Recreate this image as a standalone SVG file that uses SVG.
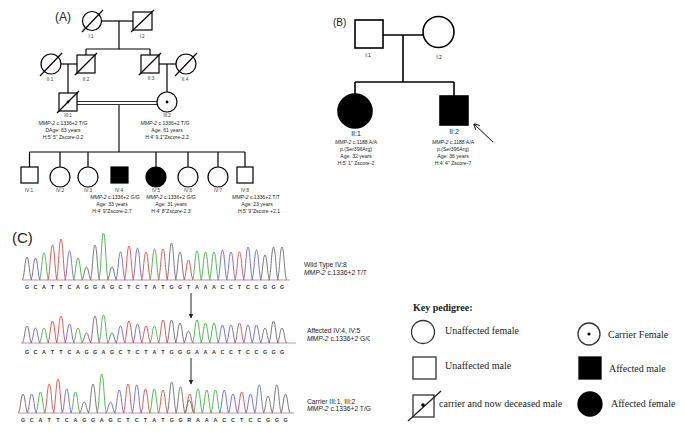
<svg xmlns="http://www.w3.org/2000/svg" width="685" height="433" viewBox="0 0 685 433">
<defs>
<style>
.ln{stroke:#000;stroke-width:1.2;fill:none}
.sh{stroke:#000;stroke-width:1.2;fill:#fff}
.bk{stroke:#000;stroke-width:1.2;fill:#000}
.lnB{stroke:#000;stroke-width:1.6;fill:none}
.shB{stroke:#000;stroke-width:1.6;fill:#fff}
.bkB{stroke:#000;stroke-width:1.6;fill:#000}
.t5{font-family:"Liberation Sans",Arial,sans-serif;font-size:5.1px;fill:#222;text-anchor:middle}
.lb{font-family:"Liberation Sans",Arial,sans-serif;font-size:4.6px;fill:#333;text-anchor:middle}
.lbB{font-family:"Liberation Sans",Arial,sans-serif;font-size:7px;fill:#222;text-anchor:middle}
.tB{font-family:"Liberation Sans",Arial,sans-serif;font-size:5.1px;fill:#222;text-anchor:middle}
.pn{font-family:"Liberation Sans",Arial,sans-serif;fill:#222}
.cap{font-family:"Liberation Sans",Arial,sans-serif;font-size:6.7px;fill:#222}
.i{font-style:italic}
.seq{font-family:"Liberation Sans",Arial,sans-serif;font-size:5.4px;font-weight:bold;fill:#333;text-anchor:middle}
.G{stroke:#6a6a6a;stroke-width:0.9}
.C{stroke:#6464dc;stroke-width:0.9}
.A{stroke:#3cb43c;stroke-width:0.9}
.T{stroke:#de4646;stroke-width:0.9}
.key{font-family:"Liberation Serif","Times New Roman",serif;font-size:10px;fill:#222}
.ks{stroke:#333;stroke-width:1.3;fill:#fff}
.kb{stroke:#000;stroke-width:1.3;fill:#000}
</style>
<path id="pk" d="M-5,0 C-2.5,0 -2.2,-1 0,-1 C2.2,-1 2.5,0 5,0" fill="none" vector-effect="non-scaling-stroke"/>
<marker id="ah" viewBox="0 0 10 10" refX="9" refY="5" markerWidth="6" markerHeight="6" orient="auto-start-reverse" markerUnits="userSpaceOnUse">
<path d="M0,0 L10,5 L0,10" fill="none" stroke="#000" stroke-width="1.5"/>
</marker>
<marker id="ahf" viewBox="0 0 10 10" refX="9" refY="5" markerWidth="5" markerHeight="5" orient="auto" markerUnits="userSpaceOnUse">
<path d="M0,0 L10,5 L0,10 Z" fill="#222"/>
</marker>
<clipPath id="clipG"><rect x="300" y="330" width="70" height="15"/></clipPath>
</defs>

<!-- Panel A -->
<text class="pn" x="55" y="21" font-size="12">(A)</text>
<g id="connectorsA">
<line class="ln" x1="101.5" y1="21" x2="133" y2="21"/>
<line class="ln" x1="119" y1="21" x2="119" y2="49"/>
<line class="ln" x1="86" y1="49" x2="150" y2="49"/>
<line class="ln" x1="86" y1="49" x2="86" y2="55"/>
<line class="ln" x1="150" y1="49" x2="150" y2="55"/>
<line class="ln" x1="61" y1="64" x2="77" y2="64"/>
<line class="ln" x1="68" y1="64" x2="68" y2="93"/>
<line class="ln" x1="159" y1="64" x2="176" y2="64"/>
<line class="ln" x1="167" y1="64" x2="167" y2="92"/>
<line stroke="#333" stroke-width="1" x1="77" y1="101.5" x2="157" y2="101.5"/>
<line stroke="#333" stroke-width="1" x1="77" y1="104.5" x2="157" y2="104.5"/>
<line stroke="#444" stroke-width="1.5" x1="119" y1="104.5" x2="119" y2="152"/>
<line class="ln" x1="29.5" y1="152" x2="245" y2="152"/>
<line class="ln" x1="29.5" y1="152" x2="29.5" y2="167"/>
<line class="ln" x1="60" y1="152" x2="60" y2="167"/>
<line class="ln" x1="88" y1="152" x2="88" y2="167"/>
<line class="ln" x1="156" y1="152" x2="156" y2="167"/>
<line class="ln" x1="188" y1="152" x2="188" y2="167"/>
<line class="ln" x1="218" y1="152" x2="218" y2="167"/>
<line class="ln" x1="245" y1="152" x2="245" y2="167"/>
</g>
<g id="A-I1"><circle class="sh" cx="92" cy="21" r="9.5"/><line class="ln" x1="82" y1="32" x2="103" y2="10"/><text class="lb" x="91" y="38">I:1</text></g>
<g id="A-I2"><rect class="sh" x="133" y="12" width="19" height="18"/><line class="ln" x1="131" y1="32" x2="154" y2="10"/><text class="lb" x="142" y="38">I:2</text></g>
<g id="A-II1"><circle class="sh" cx="51" cy="64" r="10"/><line class="ln" x1="40" y1="76" x2="62" y2="53"/><text class="lb" x="50" y="81">II:1</text></g>
<g id="A-II2"><rect class="sh" x="77" y="55" width="18" height="18"/><line class="ln" x1="75" y1="75" x2="97" y2="53"/><text class="lb" x="86" y="81">II:2</text></g>
<g id="A-II3"><rect class="sh" x="141" y="55" width="18" height="18"/><line class="ln" x1="139" y1="75" x2="161" y2="53"/><text class="lb" x="151" y="80">II:3</text></g>
<g id="A-II4"><circle class="sh" cx="186" cy="64" r="10"/><line class="ln" x1="175" y1="76" x2="197" y2="53"/><text class="lb" x="185" y="81">II:4</text></g>
<g id="A-III1"><rect class="sh" x="59" y="93" width="18" height="18"/><line class="ln" x1="57" y1="113" x2="79" y2="91"/><circle cx="68" cy="102" r="1.4" fill="#000"/>
<text class="lb" x="68" y="117">III:1</text>
<text class="t5" x="63" y="125"><tspan class="i">MMP-2</tspan> c.1336+2 T/G</text>
<text class="t5" x="63" y="132">DAge: 63 years</text>
<text class="t5" x="63" y="139">H:5' 5" Zscore-0.2</text></g>
<g id="A-III2"><circle class="sh" cx="167" cy="102" r="10"/><circle cx="167" cy="102" r="1.4" fill="#000"/>
<text class="lb" x="167" y="117">III:2</text>
<text class="t5" x="165" y="125"><tspan class="i">MMP-2</tspan> c.1336+2 T/G</text>
<text class="t5" x="167" y="132">Age: 61 years</text>
<text class="t5" x="167" y="139">H:4' 9.1"Zscore-2.2</text></g>
<g id="A-IV1"><rect class="sh" x="21" y="167" width="17" height="16"/><text class="lb" x="29" y="192">IV:1</text></g>
<g id="A-IV2"><circle class="sh" cx="60" cy="177" r="10"/><text class="lb" x="60" y="192">IV:2</text></g>
<g id="A-IV3"><circle class="sh" cx="88" cy="177" r="10"/><text class="lb" x="88" y="192">IV:3</text></g>
<g id="A-IV4"><rect class="bk" x="111" y="167" width="17" height="16"/><text class="lb" x="119" y="192">IV:4</text>
<text class="t5" x="115" y="199"><tspan class="i">MMP-2</tspan> c.1336+2 G/G</text>
<text class="t5" x="112" y="206">Age: 33 years</text>
<text class="t5" x="112" y="213">H:4' 9"Zscore-2.7</text></g>
<g id="A-IV5"><circle class="bk" cx="156" cy="177" r="10"/><text class="lb" x="156" y="192">IV:5</text>
<text class="t5" x="171" y="199"><tspan class="i">MMP-2</tspan> c.1336+2 G/G</text>
<text class="t5" x="171" y="206">Age: 31 years</text>
<text class="t5" x="171" y="213">H:4' 8"Zscore-2.3</text></g>
<g id="A-IV6"><circle class="sh" cx="188" cy="177" r="10"/><text class="lb" x="188" y="192">IV:6</text></g>
<g id="A-IV7"><circle class="sh" cx="218" cy="177" r="10"/><text class="lb" x="218" y="192">IV:7</text></g>
<g id="A-IV8"><rect class="sh" x="237" y="167" width="16" height="16"/><text class="lb" x="245" y="192">IV:8</text>
<text class="t5" x="256" y="199"><tspan class="i">MMP-2</tspan> c.1336+2 T/T</text>
<text class="t5" x="257" y="206">Age: 23 years</text>
<text class="t5" x="259" y="213">H:5' 9"Zscore +2.1</text></g>

<!-- Panel B -->
<text class="pn" x="333" y="26" font-size="10">(B)</text>
<g id="connectorsB">
<line class="lnB" x1="383" y1="35" x2="423" y2="35"/>
<line class="lnB" x1="403" y1="35" x2="403" y2="82"/>
<line class="lnB" x1="355" y1="82" x2="454" y2="82"/>
<line class="lnB" x1="355" y1="82" x2="355" y2="94"/>
<line class="lnB" x1="454" y1="82" x2="454" y2="96"/>
<line stroke="#000" stroke-width="1" x1="493" y1="142" x2="474" y2="124" marker-end="url(#ah)"/>
</g>
<g id="B-I1"><rect class="shB" x="355" y="20" width="28" height="28"/><text class="tB" x="368" y="57">I:1</text></g>
<g id="B-I2"><circle class="shB" cx="438.5" cy="32" r="15.5"/><text class="tB" x="439" y="59">I:2</text></g>
<g id="B-II1"><circle class="bkB" cx="355" cy="111" r="17"/><text class="lbB" x="356" y="136">II:1</text>
<text class="tB" x="356" y="143.5"><tspan class="i">MMP-2</tspan> c.1188 A/A</text>
<text class="tB" x="356" y="150.5">p.(Ser396Arg)</text>
<text class="tB" x="356" y="157.5">Age: 32 years</text>
<text class="tB" x="356" y="164.5">H:5' 1" Zscore-2</text></g>
<g id="B-II2"><rect class="bkB" x="440" y="96" width="28" height="29"/><text class="lbB" x="454" y="134">II:2</text>
<text class="tB" x="453" y="143.5"><tspan class="i">MMP-2</tspan> c.1188 A/A</text>
<text class="tB" x="453" y="150.5">p.(Ser396Arg)</text>
<text class="tB" x="453" y="157.5">Age: 36 years</text>
<text class="tB" x="453" y="164.5">H:4' 4" Zscore-7</text></g>

<!-- Panel C -->
<text class="pn" x="12" y="243" font-size="15">(C)</text>
<g id="trace1">
<line x1="22" y1="280" x2="290" y2="280" stroke="#b06080" stroke-width="0.7"/>
<use href="#pk" class="G" transform="translate(27,280) scale(1,23)"/>
<use href="#pk" class="C" transform="translate(35.5,280) scale(1,22)"/>
<use href="#pk" class="A" transform="translate(44,280) scale(1,27)"/>
<use href="#pk" class="T" transform="translate(52.5,280) scale(1,35)"/>
<use href="#pk" class="T" transform="translate(61,280) scale(1,41)"/>
<use href="#pk" class="C" transform="translate(69.5,280) scale(1,29)"/>
<use href="#pk" class="A" transform="translate(78,280) scale(1,22)"/>
<use href="#pk" class="G" transform="translate(86.5,280) scale(1,13)"/>
<use href="#pk" class="G" transform="translate(95,280) scale(1,35)"/>
<use href="#pk" class="A" transform="translate(103.5,280) scale(1,47)"/>
<use href="#pk" class="G" transform="translate(112,280) scale(1,13)"/>
<use href="#pk" class="C" transform="translate(120.5,280) scale(1,28)"/>
<use href="#pk" class="T" transform="translate(129,280) scale(1,34)"/>
<use href="#pk" class="C" transform="translate(137.5,280) scale(1,32)"/>
<use href="#pk" class="T" transform="translate(146,280) scale(1,28)"/>
<use href="#pk" class="A" transform="translate(154.5,280) scale(1,31)"/>
<use href="#pk" class="T" transform="translate(163,280) scale(1,31)"/>
<use href="#pk" class="G" transform="translate(171.5,280) scale(1,37)"/>
<use href="#pk" class="G" transform="translate(180,280) scale(1,28)"/>
<use href="#pk" class="T" transform="translate(188.5,280) scale(1,20)"/>
<use href="#pk" class="A" transform="translate(197,280) scale(1,29)"/>
<use href="#pk" class="A" transform="translate(205.5,280) scale(1,28)"/>
<use href="#pk" class="A" transform="translate(214,280) scale(1,28)"/>
<use href="#pk" class="C" transform="translate(222.5,280) scale(1,30)"/>
<use href="#pk" class="C" transform="translate(231,280) scale(1,28)"/>
<use href="#pk" class="T" transform="translate(239.5,280) scale(1,28)"/>
<use href="#pk" class="C" transform="translate(248,280) scale(1,33)"/>
<use href="#pk" class="C" transform="translate(256.5,280) scale(1,30)"/>
<use href="#pk" class="G" transform="translate(265,280) scale(1,25)"/>
<use href="#pk" class="G" transform="translate(273.5,280) scale(1,33)"/>
<use href="#pk" class="G" transform="translate(282,280) scale(1,33)"/>
<text class="seq" x="27 35.5 44 52.5 61 69.5 78 86.5 95 103.5 112 120.5 129 137.5 146 154.5 163 171.5 180 188.5 197 205.5 214 222.5 231 239.5 248 256.5 265 273.5 282" y="289">GCATTCAGGAGCTCTATGGTAAACCTCCGGG</text>
</g>
<g id="trace2">
<line x1="21" y1="343" x2="296" y2="343" stroke="#b06080" stroke-width="0.7"/>
<use href="#pk" class="G" transform="translate(27,343) scale(1,17)"/>
<use href="#pk" class="C" transform="translate(35.5,343) scale(1,15)"/>
<use href="#pk" class="A" transform="translate(44,343) scale(1,15)"/>
<use href="#pk" class="T" transform="translate(52.5,343) scale(1,22)"/>
<use href="#pk" class="T" transform="translate(61,343) scale(1,27)"/>
<use href="#pk" class="C" transform="translate(69.5,343) scale(1,19)"/>
<use href="#pk" class="A" transform="translate(78,343) scale(1,15)"/>
<use href="#pk" class="G" transform="translate(86.5,343) scale(1,10)"/>
<use href="#pk" class="G" transform="translate(95,343) scale(1,27)"/>
<use href="#pk" class="A" transform="translate(103.5,343) scale(1,28)"/>
<use href="#pk" class="G" transform="translate(112,343) scale(1,10)"/>
<use href="#pk" class="C" transform="translate(120.5,343) scale(1,17)"/>
<use href="#pk" class="T" transform="translate(129,343) scale(1,22)"/>
<use href="#pk" class="C" transform="translate(137.5,343) scale(1,19)"/>
<use href="#pk" class="T" transform="translate(146,343) scale(1,17)"/>
<use href="#pk" class="A" transform="translate(154.5,343) scale(1,17)"/>
<use href="#pk" class="T" transform="translate(163,343) scale(1,23)"/>
<use href="#pk" class="G" transform="translate(171.5,343) scale(1,23)"/>
<use href="#pk" class="G" transform="translate(180,343) scale(1,20)"/>
<use href="#pk" class="G" transform="translate(188.5,343) scale(1,12)"/>
<use href="#pk" class="A" transform="translate(197,343) scale(1,23)"/>
<use href="#pk" class="A" transform="translate(205.5,343) scale(1,20)"/>
<use href="#pk" class="A" transform="translate(214,343) scale(1,20)"/>
<use href="#pk" class="C" transform="translate(222.5,343) scale(1,18)"/>
<use href="#pk" class="C" transform="translate(231,343) scale(1,18)"/>
<use href="#pk" class="T" transform="translate(239.5,343) scale(1,20)"/>
<use href="#pk" class="C" transform="translate(248,343) scale(1,18)"/>
<use href="#pk" class="C" transform="translate(256.5,343) scale(1,18)"/>
<use href="#pk" class="G" transform="translate(265,343) scale(1,15)"/>
<use href="#pk" class="G" transform="translate(273.5,343) scale(1,22)"/>
<use href="#pk" class="G" transform="translate(282,343) scale(1,15)"/>
<text class="seq" x="27 35.5 44 52.5 61 69.5 78 86.5 95 103.5 112 120.5 129 137.5 146 154.5 163 171.5 180 188.5 197 205.5 214 222.5 231 239.5 248 256.5 265 273.5 282" y="354">GCATTCAGGAGCTCTATGGGAAACCTCCGGG</text>
</g>
<g id="trace3">
<line x1="18" y1="413" x2="294" y2="413" stroke="#b06080" stroke-width="0.7"/>
<use href="#pk" class="G" transform="translate(23,413) scale(1,19)"/>
<use href="#pk" class="C" transform="translate(31.75,413) scale(1,19)"/>
<use href="#pk" class="A" transform="translate(40.5,413) scale(1,21)"/>
<use href="#pk" class="T" transform="translate(49.25,413) scale(1,29)"/>
<use href="#pk" class="T" transform="translate(58,413) scale(1,34)"/>
<use href="#pk" class="C" transform="translate(66.75,413) scale(1,24)"/>
<use href="#pk" class="A" transform="translate(75.5,413) scale(1,21)"/>
<use href="#pk" class="G" transform="translate(84.25,413) scale(1,11)"/>
<use href="#pk" class="G" transform="translate(93,413) scale(1,29)"/>
<use href="#pk" class="A" transform="translate(101.75,413) scale(1,39)"/>
<use href="#pk" class="G" transform="translate(110.5,413) scale(1,11)"/>
<use href="#pk" class="C" transform="translate(119.25,413) scale(1,23)"/>
<use href="#pk" class="T" transform="translate(128,413) scale(1,29)"/>
<use href="#pk" class="C" transform="translate(136.75,413) scale(1,28)"/>
<use href="#pk" class="T" transform="translate(145.5,413) scale(1,24)"/>
<use href="#pk" class="A" transform="translate(154.25,413) scale(1,24)"/>
<use href="#pk" class="T" transform="translate(163,413) scale(1,23)"/>
<use href="#pk" class="G" transform="translate(171.75,413) scale(1,31)"/>
<use href="#pk" class="G" transform="translate(180.5,413) scale(1,26)"/>
<use href="#pk" class="G" transform="translate(189.25,413) scale(1,13)"/>
<use href="#pk" class="T" transform="translate(189.75,413) scale(1,19)"/>
<use href="#pk" class="A" transform="translate(198,413) scale(1,24)"/>
<use href="#pk" class="A" transform="translate(206.75,413) scale(1,23)"/>
<use href="#pk" class="A" transform="translate(215.5,413) scale(1,23)"/>
<use href="#pk" class="C" transform="translate(224.25,413) scale(1,23)"/>
<use href="#pk" class="C" transform="translate(233,413) scale(1,19)"/>
<use href="#pk" class="T" transform="translate(241.75,413) scale(1,21)"/>
<use href="#pk" class="C" transform="translate(250.5,413) scale(1,19)"/>
<use href="#pk" class="C" transform="translate(259.25,413) scale(1,28)"/>
<use href="#pk" class="G" transform="translate(268,413) scale(1,17)"/>
<use href="#pk" class="G" transform="translate(276.75,413) scale(1,28)"/>
<use href="#pk" class="G" transform="translate(285.5,413) scale(1,19)"/>
<text class="seq" x="23 31.75 40.5 49.25 58 66.75 75.5 84.25 93 101.75 110.5 119.25 128 136.75 145.5 154.25 163 171.75 180.5 189.25 198 206.75 215.5 224.25 233 241.75 250.5 259.25 268 276.75 285.5" y="422">GCATTCAGGAGCTCTATGGRAAACCTCCGGG</text>
</g>
<g id="connectorsC">
<line x1="191" y1="293" x2="191" y2="318" stroke="#222" stroke-width="1" marker-end="url(#ahf)"/>
<line x1="191" y1="358" x2="191" y2="384" stroke="#222" stroke-width="1" marker-end="url(#ahf)"/>
</g>
<g id="C-labels">
<text class="cap" x="304" y="267">Wild Type IV:8</text>
<text class="cap" x="304" y="275"><tspan class="i">MMP-2</tspan> c.1336+2 T/T</text>
<text class="cap" x="307" y="333">Affected IV:4, IV:5</text>
<text class="cap" x="307" y="341" clip-path="url(#clipG)"><tspan class="i">MMP-2</tspan> c.1336+2 G/G</text>
<text class="cap" x="307" y="404">Carrier III:1, III:2</text>
<text class="cap" x="307" y="411"><tspan class="i">MMP-2</tspan> c.1336+2 T/G</text>
</g>

<!-- Key -->
<g id="key">
<text class="key" x="413" y="311" font-weight="bold">Key pedigree:</text>
<circle class="ks" cx="423" cy="332" r="11.5"/>
<text class="key" x="445" y="334">Unaffected female</text>
<circle class="ks" cx="589" cy="334" r="11"/><circle cx="589" cy="334" r="1.6" fill="#000"/>
<text class="key" x="608" y="338">Carrier Female</text>
<rect class="ks" x="413" y="357" width="23" height="22"/>
<text class="key" x="445" y="369">Unaffected male</text>
<rect class="kb" x="579" y="357" width="22" height="22"/>
<text class="key" x="609" y="372">Affected male</text>
<rect class="ks" x="413" y="395" width="21" height="22"/>
<line x1="408" y1="421" x2="441" y2="391" stroke="#222" stroke-width="1.3"/>
<circle cx="423" cy="405" r="1.8" fill="#000"/>
<text class="key" x="439" y="407">carrier and now deceased male</text>
<circle class="kb" cx="590" cy="404" r="12"/>
<text class="key" x="611" y="407">Affected female</text>
</g>
</svg>
